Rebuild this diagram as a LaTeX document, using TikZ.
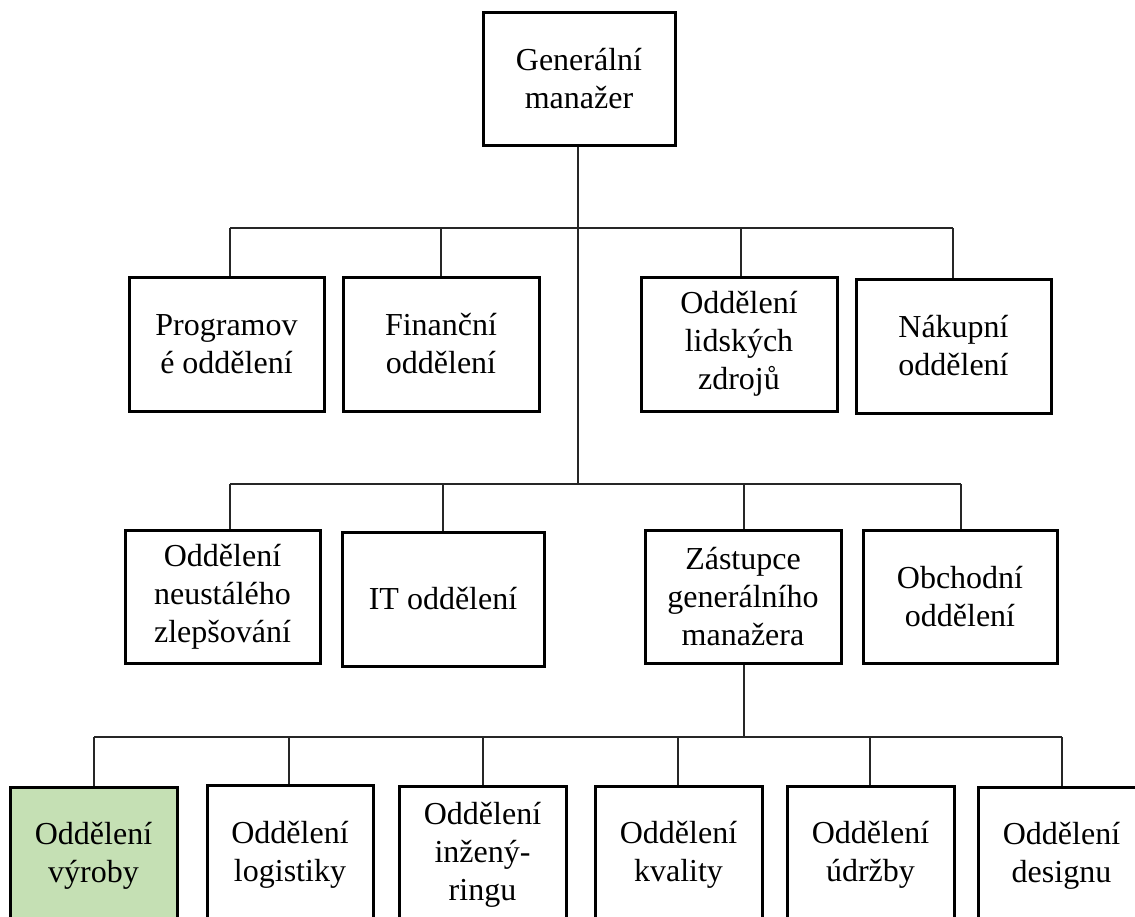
\documentclass[tikz,border=0pt]{standalone}
\usepackage{fontspec}
\setmainfont{Liberation Serif}
\definecolor{boxgreen}{RGB}{197,224,180}
\begin{document}
\begin{tikzpicture}[x=1pt,y=-1pt,
  box/.style={draw=black, line width=3pt, rectangle, inner sep=0pt, align=center,
    font=\fontsize{32}{38}\selectfont},
  link/.style={draw=black!85, line width=1.3pt}]
\clip (0,0) rectangle (1135,916);
\fill[white] (0,0) rectangle (1135,916);
% level 0
\node[box, minimum width=192pt, minimum height=133pt] (gm) at (579,78.5) {Generální\\manažer};
% level 1
\node[box, minimum width=195pt, minimum height=134pt] (p1) at (226.5,344) {Programov\\é oddělení};
\node[box, minimum width=196pt, minimum height=134pt] (p2) at (441,344) {Finanční\\oddělení};
\node[box, minimum width=196pt, minimum height=134pt] (p3) at (739,344) {Oddělení\\lidských\\zdrojů};
\node[box, minimum width=195pt, minimum height=134pt] (p4) at (953.5,346) {Nákupní\\oddělení};
% level 2
\node[box, minimum width=195pt, minimum height=133pt] (q1) at (222.5,596.5) {Oddělení\\neustálého\\zlepšování};
\node[box, minimum width=202pt, minimum height=134pt] (q2) at (443,599) {IT oddělení};
\node[box, minimum width=196pt, minimum height=133pt] (q3) at (743,596.5) {Zástupce\\generálního\\manažera};
\node[box, minimum width=194pt, minimum height=133pt] (q4) at (960,596.5) {Obchodní\\oddělení};
% level 3
\node[box, fill=boxgreen, minimum width=167pt, minimum height=137pt] (r1) at (93.5,855.5) {Oddělení\\výroby};
\node[box, minimum width=166pt, minimum height=139pt] (r2) at (290,854.5) {Oddělení\\logistiky};
\node[box, minimum width=167pt, minimum height=138pt] (r3) at (482.5,855) {Oddělení\\inžený-\\ringu};
\node[box, minimum width=167pt, minimum height=138pt] (r4) at (678.5,855) {Oddělení\\kvality};
\node[box, minimum width=167pt, minimum height=138pt] (r5) at (870.5,855) {Oddělení\\údržby};
\node[box, minimum width=167pt, minimum height=137pt] (r6) at (1061.5,855.5) {Oddělení\\designu};
% bus coordinates
\coordinate (t2) at (578,484);
\coordinate (a1) at (230,228);
\coordinate (a2) at (441,228);
\coordinate (a3) at (741,228);
\coordinate (a4) at (953,228);
\coordinate (b1) at (230,484);
\coordinate (b2) at (443,484);
\coordinate (b3) at (744,484);
\coordinate (b4) at (961,484);
\coordinate (c1) at (94,737);
\coordinate (c2) at (289,737);
\coordinate (c3) at (483,737);
\coordinate (c4) at (678,737);
\coordinate (c5) at (870,737);
\coordinate (c6) at (1062,737);
\coordinate (cz) at (744,737);
% connectors
\draw[link] (gm.south -| t2) -- (t2);
\draw[link] (a1) -- (a4);
\draw[link] (a1) -- (a1 |- p1.north);
\draw[link] (a2) -- (a2 |- p2.north);
\draw[link] (a3) -- (a3 |- p3.north);
\draw[link] (a4) -- (a4 |- p4.north);
\draw[link] (b1) -- (b4);
\draw[link] (b1) -- (b1 |- q1.north);
\draw[link] (b2) -- (b2 |- q2.north);
\draw[link] (b3) -- (b3 |- q3.north);
\draw[link] (b4) -- (b4 |- q4.north);
\draw[link] (q3.south -| cz) -- (cz);
\draw[link] (c1) -- (c6);
\draw[link] (c1) -- (c1 |- r1.north);
\draw[link] (c2) -- (c2 |- r2.north);
\draw[link] (c3) -- (c3 |- r3.north);
\draw[link] (c4) -- (c4 |- r4.north);
\draw[link] (c5) -- (c5 |- r5.north);
\draw[link] (c6) -- (c6 |- r6.north);
\end{tikzpicture}
\end{document}
